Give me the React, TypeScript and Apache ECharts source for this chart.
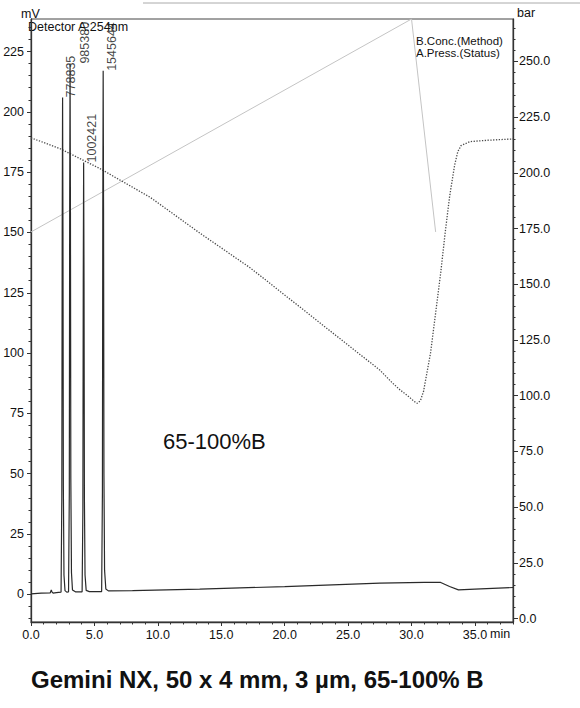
import React, { useEffect, useRef } from "react";
import * as echarts from "echarts";

// Chromatogram trace: retention time (min) and detector signal (mV)
const chromTime = [
  0, 0.8, 1.52, 1.6, 1.66, 1.74, 2.0,
  2.37, 2.43, 2.46, 2.49, 2.52, 2.55, 2.6, 2.68, 2.82,
  2.96, 3.02, 3.05, 3.08, 3.11, 3.14, 3.19, 3.27, 3.5,
  4.03, 4.09, 4.12, 4.15, 4.18, 4.21, 4.26, 4.35, 4.6,
  5.57, 5.63, 5.66, 5.69, 5.72, 5.75, 5.8, 5.9, 6.1,
  8.0, 13.3, 20.0, 27.5, 31.0, 32.3, 33.0, 33.7, 35.0, 38.0,
];
const chromSignal = [
  0.2, 0.5, 0.6, 1.8, 0.9, 0.5, 0.7,
  0.9, 40, 150, 206, 150, 45, 8, 1.5, 0.9,
  1.0, 42, 160, 220, 158, 48, 9, 1.8, 1.0,
  1.0, 35, 130, 179, 130, 40, 8, 1.6, 1.1,
  1.1, 42, 158, 217, 160, 50, 10, 2.2, 1.4,
  1.5, 2.1, 3.2, 4.6, 4.9, 4.9, 3.2, 1.8, 2.1, 2.8,
];

// Peak apexes and their area labels
const peakTimes = [2.49, 3.08, 4.15, 5.69];
const peakHeights = [206, 220, 179, 217];
const peakAreas = ["778835", "985380", "1002421", "1545644"];

// Pump pressure (bar)
const pressTime = [
  0, 2.3, 5.4, 9.4, 13.3, 17.3, 21.2, 23.8, 26.5, 27.5, 28.5, 29.1, 29.8,
  30.2, 30.45, 30.7, 30.95, 31.5, 31.9, 32.3, 32.65, 33.0, 33.4, 33.65, 33.9, 34.6, 36.0, 38.0,
];
const pressBar = [
  215.7, 210.8, 202.0, 189.0, 173.0, 157.3, 139.8, 128.1, 116.0, 111.5, 105.7, 102.6, 99.5,
  97.5, 96.6, 97.8, 102.0, 119.2, 137.1, 155.1, 173.0, 189.3, 203.5, 209.5, 212.2, 214.0, 214.6, 215.2,
];

// Gradient program (%B)
const concTime = [0, 30, 31.9];
const concB = [65, 100, 65];

// Tick labels
const xTickLabels = [0, 5, 10, 15, 20, 25, 30, 35];
const mvTickLabels = [0, 25, 50, 75, 100, 125, 150, 175, 200, 225];
const barTickLabels = [0, 25, 50, 75, 100, 125, 150, 175, 200, 225, 250];

const range = (a: number, b: number, step: number) => {
  const out: number[] = [];
  for (let v = a; v <= b + 1e-9; v += step) out.push(Math.round(v * 1000) / 1000);
  return out;
};
const xMinorTicks = range(0, 38, 1);
const mvMinorTicks = range(-10, 235, 5);
const barMinorTicks = range(0, 265, 5);

const FONT = "Liberation Sans, Arial, Helvetica, sans-serif";
const AXIS_COLOR = "#333";

export default function App() {
  const ref = useRef<HTMLDivElement>(null);

  useEffect(() => {
    if (!ref.current) return;
    const chart = echarts.init(ref.current, undefined, { renderer: "svg" });

    const X_MIN = 0, X_MAX = 38;
    const MV_MIN = -11.5, MV_MAX = 238.5;
    const BAR_MIN = -1.5, BAR_MAX = 269;

    const baseAxisLine = { show: true, onZero: false, lineStyle: { color: AXIS_COLOR, width: 1.3 } };
    const labelStyle = { color: "#111", fontSize: 12.5, fontFamily: FONT };

    const option: any = {
      animation: false,
      backgroundColor: "#fff",
      textStyle: { fontFamily: FONT },
      grid: {
        left: 31, right: 67, top: 19, bottom: 86,
        show: true, borderColor: "#444", borderWidth: 1, backgroundColor: "transparent",
      },
      xAxis: [
        {
          type: "value", min: X_MIN, max: X_MAX, position: "bottom",
          axisLine: baseAxisLine,
          axisTick: { show: true, customValues: xTickLabels, length: 4, lineStyle: { color: AXIS_COLOR } },
          axisLabel: {
            ...labelStyle, customValues: xTickLabels, margin: 6,
            formatter: (v: number) => v.toFixed(1),
          },
          splitLine: { show: false },
        },
        {
          type: "value", min: X_MIN, max: X_MAX, position: "bottom",
          axisLine: { show: false, onZero: false },
          axisTick: { show: true, customValues: xMinorTicks, length: 2.5, lineStyle: { color: AXIS_COLOR } },
          axisLabel: { show: false },
          splitLine: { show: false },
        },
      ],
      yAxis: [
        {
          type: "value", min: MV_MIN, max: MV_MAX, position: "left",
          axisLine: baseAxisLine,
          axisTick: { show: true, customValues: mvTickLabels, length: 4, lineStyle: { color: AXIS_COLOR } },
          axisLabel: { ...labelStyle, customValues: mvTickLabels, margin: 7 },
          splitLine: { show: false },
        },
        {
          type: "value", min: BAR_MIN, max: BAR_MAX, position: "right",
          axisLine: baseAxisLine,
          axisTick: { show: true, customValues: barTickLabels, length: 5, lineStyle: { color: AXIS_COLOR } },
          axisLabel: {
            ...labelStyle, customValues: barTickLabels, margin: 6,
            formatter: (v: number) => v.toFixed(1),
          },
          splitLine: { show: false },
        },
        {
          type: "value", min: 0.9, max: 100, show: false,
          splitLine: { show: false },
        },
        {
          type: "value", min: MV_MIN, max: MV_MAX, position: "left",
          axisLine: { show: false, onZero: false },
          axisTick: { show: true, customValues: mvMinorTicks, length: 2.5, lineStyle: { color: AXIS_COLOR } },
          axisLabel: { show: false },
          splitLine: { show: false },
        },
        {
          type: "value", min: BAR_MIN, max: BAR_MAX, position: "right",
          axisLine: { show: false, onZero: false },
          axisTick: { show: true, customValues: barMinorTicks, length: 2.5, lineStyle: { color: AXIS_COLOR } },
          axisLabel: { show: false },
          splitLine: { show: false },
        },
      ],
      series: [
        {
          name: "B.Conc.",
          type: "line", xAxisIndex: 0, yAxisIndex: 2,
          data: concTime.map((t, i) => [t, concB[i]]),
          showSymbol: false, silent: true,
          lineStyle: { color: "#c4c4c4", width: 1 },
        },
        {
          name: "A.Press.",
          type: "line", xAxisIndex: 0, yAxisIndex: 1,
          data: pressTime.map((t, i) => [t, pressBar[i]]),
          showSymbol: false, silent: true,
          smooth: false,
          lineStyle: { color: "#4a4a4a", width: 1.3, type: [1.3, 1.5] },
        },
        {
          name: "Detector A",
          type: "line", xAxisIndex: 0, yAxisIndex: 0,
          data: chromTime.map((t, i) => [t, chromSignal[i]]),
          showSymbol: false, silent: true,
          lineStyle: { color: "#2a2a2a", width: 1.2 },
        },
        {
          name: "Areas",
          type: "scatter", xAxisIndex: 0, yAxisIndex: 0,
          symbolSize: 0, silent: true,
          data: peakTimes.map((t, i) => ({
            value: [t, peakHeights[i]],
            label: { position: i === 1 ? [8, 0] : [2, 0] },
          })),
          label: {
            show: true,
            formatter: (p: any) => peakAreas[p.dataIndex],
            rotate: 90,
            align: "left",
            verticalAlign: "top",
            color: "#111",
            fontSize: 12.5,
            fontFamily: FONT,
          },
        },
      ],
      graphic: [
        { type: "line", silent: true, shape: { x1: 143, y1: 3, x2: 580, y2: 3 }, style: { stroke: "#aaa", lineWidth: 1 } },
        { type: "text", x: 21, y: 14, style: { text: "mV", fill: "#111", fontSize: 12.5, fontFamily: FONT, align: "left", verticalAlign: "middle" } },
        { type: "text", x: 517, y: 13, style: { text: "bar", fill: "#111", fontSize: 12.5, fontFamily: FONT, align: "left", verticalAlign: "middle" } },
        { type: "text", x: 490, y: 634, style: { text: "min", fill: "#111", fontSize: 12.5, fontFamily: FONT, align: "left", verticalAlign: "middle" } },
        { type: "text", x: 28, y: 27, style: { text: "Detector A:254nm", fill: "#111", fontSize: 12.5, fontFamily: FONT, align: "left", verticalAlign: "middle" } },
        { type: "text", x: 416, y: 41, style: { text: "B.Conc.(Method)", fill: "#111", fontSize: 11.5, fontFamily: FONT, align: "left", verticalAlign: "middle" } },
        { type: "text", x: 416, y: 53, style: { text: "A.Press.(Status)", fill: "#111", fontSize: 11.5, fontFamily: FONT, align: "left", verticalAlign: "middle" } },
        { type: "text", x: 163, y: 441, style: { text: "65-100%B", fill: "#111", fontSize: 22, fontFamily: FONT, align: "left", verticalAlign: "middle" } },
        { type: "text", x: 31, y: 679, style: { text: "Gemini NX, 50 x 4 mm, 3 µm, 65-100% B", fill: "#111", fontSize: 24, fontWeight: "bold", fontFamily: FONT, align: "left", verticalAlign: "middle" } },
      ],
    };

    chart.setOption(option);
    return () => chart.dispose();
  }, []);

  return (
    <div
      ref={ref}
      style={{ position: "absolute", left: 0, top: 0, width: 580, height: 708, background: "#fff" }}
    />
  );
}
